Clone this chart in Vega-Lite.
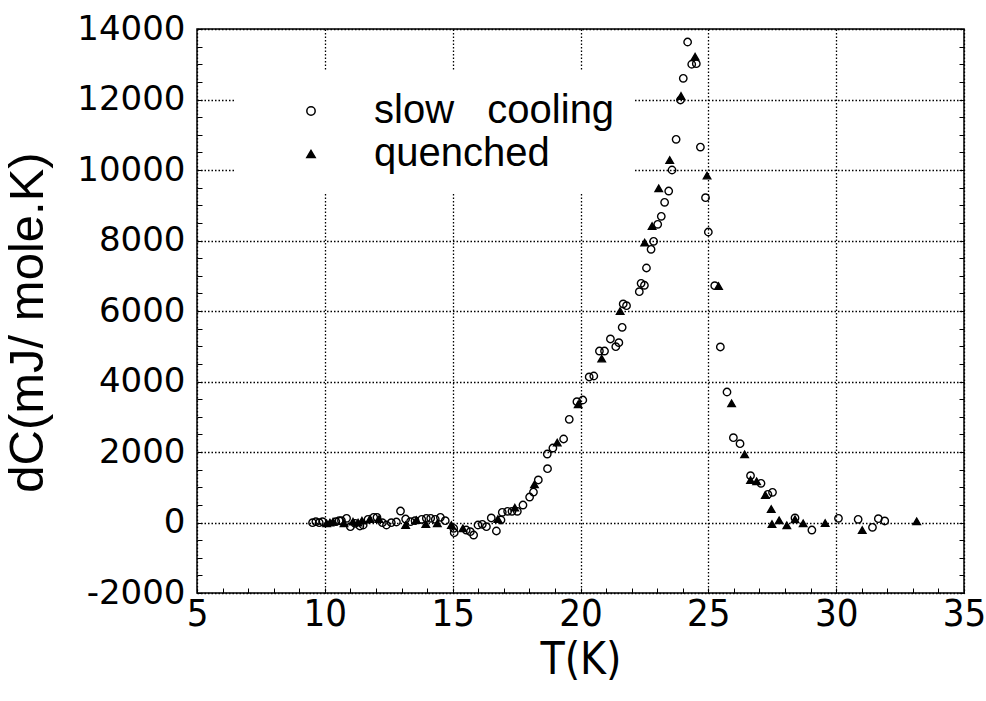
{
  "$schema": "https://vega.github.io/schema/vega-lite/v6.json",
  "width": 767,
  "height": 564,
  "autosize": {"type": "none"},
  "padding": {"left": 197, "top": 29, "right": 22, "bottom": 108},
  "background": "white",
  "config": {
    "view": {"stroke": "black", "strokeWidth": 1.5},
    "font": "Liberation Sans"
  },
  "data": {
    "values": [
      {"T": 9.52, "dC": -5, "s": "slow cooling"},
      {"T": 9.65, "dC": 23, "s": "slow cooling"},
      {"T": 9.78, "dC": -5, "s": "slow cooling"},
      {"T": 9.91, "dC": 23, "s": "slow cooling"},
      {"T": 10.43, "dC": 23, "s": "slow cooling"},
      {"T": 10.56, "dC": 50, "s": "slow cooling"},
      {"T": 10.65, "dC": 50, "s": "slow cooling"},
      {"T": 10.85, "dC": 118, "s": "slow cooling"},
      {"T": 11.0, "dC": -119, "s": "slow cooling"},
      {"T": 11.18, "dC": -24, "s": "slow cooling"},
      {"T": 11.37, "dC": -99, "s": "slow cooling"},
      {"T": 11.5, "dC": -71, "s": "slow cooling"},
      {"T": 11.69, "dC": 90, "s": "slow cooling"},
      {"T": 11.91, "dC": 147, "s": "slow cooling"},
      {"T": 12.04, "dC": 147, "s": "slow cooling"},
      {"T": 12.25, "dC": -5, "s": "slow cooling"},
      {"T": 12.41, "dC": -71, "s": "slow cooling"},
      {"T": 12.6, "dC": -5, "s": "slow cooling"},
      {"T": 12.8, "dC": 14, "s": "slow cooling"},
      {"T": 12.96, "dC": 326, "s": "slow cooling"},
      {"T": 13.16, "dC": 99, "s": "slow cooling"},
      {"T": 13.35, "dC": 23, "s": "slow cooling"},
      {"T": 13.53, "dC": 51, "s": "slow cooling"},
      {"T": 13.79, "dC": 90, "s": "slow cooling"},
      {"T": 13.97, "dC": 118, "s": "slow cooling"},
      {"T": 14.14, "dC": 118, "s": "slow cooling"},
      {"T": 14.32, "dC": 90, "s": "slow cooling"},
      {"T": 14.52, "dC": 147, "s": "slow cooling"},
      {"T": 14.71, "dC": 51, "s": "slow cooling"},
      {"T": 15.04, "dC": -165, "s": "slow cooling"},
      {"T": 15.06, "dC": -289, "s": "slow cooling"},
      {"T": 15.53, "dC": -213, "s": "slow cooling"},
      {"T": 15.69, "dC": -260, "s": "slow cooling"},
      {"T": 15.82, "dC": -355, "s": "slow cooling"},
      {"T": 15.99, "dC": -71, "s": "slow cooling"},
      {"T": 16.16, "dC": -51, "s": "slow cooling"},
      {"T": 16.32, "dC": -119, "s": "slow cooling"},
      {"T": 16.51, "dC": 128, "s": "slow cooling"},
      {"T": 16.71, "dC": -241, "s": "slow cooling"},
      {"T": 16.89, "dC": 71, "s": "slow cooling"},
      {"T": 16.94, "dC": 289, "s": "slow cooling"},
      {"T": 17.15, "dC": 318, "s": "slow cooling"},
      {"T": 17.32, "dC": 318, "s": "slow cooling"},
      {"T": 17.53, "dC": 318, "s": "slow cooling"},
      {"T": 17.75, "dC": 496, "s": "slow cooling"},
      {"T": 18.01, "dC": 723, "s": "slow cooling"},
      {"T": 18.16, "dC": 865, "s": "slow cooling"},
      {"T": 18.35, "dC": 1206, "s": "slow cooling"},
      {"T": 18.71, "dC": 1527, "s": "slow cooling"},
      {"T": 18.7, "dC": 1943, "s": "slow cooling"},
      {"T": 18.92, "dC": 2113, "s": "slow cooling"},
      {"T": 19.34, "dC": 2369, "s": "slow cooling"},
      {"T": 19.56, "dC": 2927, "s": "slow cooling"},
      {"T": 19.86, "dC": 3428, "s": "slow cooling"},
      {"T": 20.09, "dC": 3475, "s": "slow cooling"},
      {"T": 20.34, "dC": 4128, "s": "slow cooling"},
      {"T": 20.52, "dC": 4156, "s": "slow cooling"},
      {"T": 20.74, "dC": 4865, "s": "slow cooling"},
      {"T": 20.94, "dC": 4865, "s": "slow cooling"},
      {"T": 21.38, "dC": 4988, "s": "slow cooling"},
      {"T": 21.5, "dC": 5101, "s": "slow cooling"},
      {"T": 21.17, "dC": 5206, "s": "slow cooling"},
      {"T": 21.63, "dC": 5537, "s": "slow cooling"},
      {"T": 21.67, "dC": 6199, "s": "slow cooling"},
      {"T": 21.8, "dC": 6151, "s": "slow cooling"},
      {"T": 22.3, "dC": 6548, "s": "slow cooling"},
      {"T": 22.37, "dC": 6786, "s": "slow cooling"},
      {"T": 22.5, "dC": 6730, "s": "slow cooling"},
      {"T": 22.58, "dC": 7220, "s": "slow cooling"},
      {"T": 22.76, "dC": 7750, "s": "slow cooling"},
      {"T": 22.86, "dC": 7977, "s": "slow cooling"},
      {"T": 23.02, "dC": 8459, "s": "slow cooling"},
      {"T": 23.16, "dC": 8686, "s": "slow cooling"},
      {"T": 23.29, "dC": 9084, "s": "slow cooling"},
      {"T": 23.45, "dC": 9404, "s": "slow cooling"},
      {"T": 23.58, "dC": 10000, "s": "slow cooling"},
      {"T": 23.74, "dC": 10870, "s": "slow cooling"},
      {"T": 23.91, "dC": 11986, "s": "slow cooling"},
      {"T": 24.02, "dC": 12600, "s": "slow cooling"},
      {"T": 24.19, "dC": 13631, "s": "slow cooling"},
      {"T": 24.35, "dC": 13000, "s": "slow cooling"},
      {"T": 24.53, "dC": 13016, "s": "slow cooling"},
      {"T": 24.69, "dC": 10650, "s": "slow cooling"},
      {"T": 24.89, "dC": 9215, "s": "slow cooling"},
      {"T": 25.0, "dC": 8241, "s": "slow cooling"},
      {"T": 25.25, "dC": 6718, "s": "slow cooling"},
      {"T": 25.47, "dC": 4979, "s": "slow cooling"},
      {"T": 25.73, "dC": 3702, "s": "slow cooling"},
      {"T": 25.98, "dC": 2406, "s": "slow cooling"},
      {"T": 26.24, "dC": 2235, "s": "slow cooling"},
      {"T": 26.65, "dC": 1328, "s": "slow cooling"},
      {"T": 27.06, "dC": 1112, "s": "slow cooling"},
      {"T": 27.33, "dC": 800, "s": "slow cooling"},
      {"T": 27.51, "dC": 857, "s": "slow cooling"},
      {"T": 28.39, "dC": 128, "s": "slow cooling"},
      {"T": 29.05, "dC": -213, "s": "slow cooling"},
      {"T": 30.09, "dC": 119, "s": "slow cooling"},
      {"T": 30.86, "dC": 90, "s": "slow cooling"},
      {"T": 31.42, "dC": -137, "s": "slow cooling"},
      {"T": 31.65, "dC": 108, "s": "slow cooling"},
      {"T": 31.9, "dC": 43, "s": "slow cooling"},
      {"T": 10.07, "dC": -24, "s": "quenched"},
      {"T": 10.2, "dC": 0, "s": "quenched"},
      {"T": 10.32, "dC": 23, "s": "quenched"},
      {"T": 10.75, "dC": -24, "s": "quenched"},
      {"T": 11.1, "dC": 23, "s": "quenched"},
      {"T": 11.3, "dC": -5, "s": "quenched"},
      {"T": 11.45, "dC": 51, "s": "quenched"},
      {"T": 11.76, "dC": 99, "s": "quenched"},
      {"T": 12.12, "dC": 99, "s": "quenched"},
      {"T": 13.16, "dC": -71, "s": "quenched"},
      {"T": 13.58, "dC": 71, "s": "quenched"},
      {"T": 13.95, "dC": -43, "s": "quenched"},
      {"T": 14.4, "dC": -24, "s": "quenched"},
      {"T": 14.95, "dC": -71, "s": "quenched"},
      {"T": 15.4, "dC": -165, "s": "quenched"},
      {"T": 16.77, "dC": 99, "s": "quenched"},
      {"T": 17.43, "dC": 420, "s": "quenched"},
      {"T": 18.2, "dC": 1083, "s": "quenched"},
      {"T": 19.09, "dC": 2265, "s": "quenched"},
      {"T": 19.91, "dC": 3352, "s": "quenched"},
      {"T": 20.83, "dC": 4648, "s": "quenched"},
      {"T": 21.55, "dC": 6000, "s": "quenched"},
      {"T": 22.51, "dC": 7938, "s": "quenched"},
      {"T": 22.8, "dC": 8411, "s": "quenched"},
      {"T": 23.06, "dC": 9480, "s": "quenched"},
      {"T": 23.49, "dC": 10284, "s": "quenched"},
      {"T": 23.93, "dC": 12100, "s": "quenched"},
      {"T": 24.48, "dC": 13214, "s": "quenched"},
      {"T": 24.95, "dC": 9840, "s": "quenched"},
      {"T": 25.4, "dC": 6709, "s": "quenched"},
      {"T": 25.91, "dC": 3381, "s": "quenched"},
      {"T": 26.42, "dC": 1935, "s": "quenched"},
      {"T": 26.65, "dC": 1206, "s": "quenched"},
      {"T": 26.89, "dC": 1169, "s": "quenched"},
      {"T": 27.23, "dC": 780, "s": "quenched"},
      {"T": 27.46, "dC": 383, "s": "quenched"},
      {"T": 27.49, "dC": -43, "s": "quenched"},
      {"T": 27.77, "dC": 62, "s": "quenched"},
      {"T": 28.07, "dC": -80, "s": "quenched"},
      {"T": 28.39, "dC": 90, "s": "quenched"},
      {"T": 28.71, "dC": -23, "s": "quenched"},
      {"T": 29.57, "dC": -14, "s": "quenched"},
      {"T": 31.02, "dC": -213, "s": "quenched"},
      {"T": 33.15, "dC": 34, "s": "quenched"}
    ]
  },
  "resolve": {"axis": {"x": "independent", "y": "independent"}},
  "layer": [
    {
      "mark": {"type": "point", "opacity": 0},
      "encoding": {
        "x": {"field": "T", "type": "quantitative", "scale": {"domain": [5, 35], "nice": false, "zero": false},
          "axis": {"orient": "bottom", "values": [5,6,7,8,9,10,11,12,13,14,15,16,17,18,19,20,21,22,23,24,25,26,27,28,29,30,31,32,33,34,35], "labels": false, "ticks": true, "tickSize": -5, "tickColor": "black", "tickWidth": 1, "domain": false, "grid": false, "title": null}},
        "y": {"field": "dC", "type": "quantitative", "scale": {"domain": [-2000, 14000], "nice": false, "zero": false},
          "axis": {"orient": "left", "values": [-2000,-1500,-1000,-500,0,500,1000,1500,2000,2500,3000,3500,4000,4500,5000,5500,6000,6500,7000,7500,8000,8500,9000,9500,10000,10500,11000,11500,12000,12500,13000,13500,14000], "labels": false, "ticks": true, "tickSize": -5, "tickColor": "black", "tickWidth": 1, "domain": false, "grid": false, "title": null}}
      }
    },
    {
      "mark": {"type": "point", "opacity": 0},
      "encoding": {
        "x": {"field": "T", "type": "quantitative", "axis": null},
        "y": {"field": "dC", "type": "quantitative",
          "axis": {"orient": "right", "values": [-2000,-1500,-1000,-500,0,500,1000,1500,2000,2500,3000,3500,4000,4500,5000,5500,6000,6500,7000,7500,8000,8500,9000,9500,10000,10500,11000,11500,12000,12500,13000,13500,14000], "labels": false, "ticks": true, "tickSize": -5, "tickColor": "black", "tickWidth": 1, "domain": false, "grid": false, "title": null}}
      }
    },
    {
      "mark": {"type": "point", "filled": true, "stroke": "black", "strokeWidth": 1.4, "opacity": 1, "size": 55},
      "encoding": {
        "x": {"field": "T", "type": "quantitative",
          "axis": {"orient": "bottom", "values": [5, 10, 15, 20, 25, 30, 35], "title": "T(K)", "labelFont": "DejaVu Sans Condensed, Liberation Sans", "labelFontSize": 38, "labelColor": "black", "labelPadding": 2, "labelFlush": false, "ticks": false, "domain": false, "grid": true, "gridColor": "black", "gridDash": [1.5, 2], "gridWidth": 1.3, "gridOpacity": 1, "titleFont": "DejaVu Sans Condensed, Liberation Sans", "titleFontSize": 44, "titleFontWeight": "normal", "titleColor": "black", "titlePadding": 5}},
        "y": {"field": "dC", "type": "quantitative",
          "axis": {"orient": "left", "values": [-2000, 0, 2000, 4000, 6000, 8000, 10000, 12000, 14000], "format": "d", "labelExpr": "replace(datum.label, '\u2212', '-')", "title": "dC(mJ/ mole.K)", "labelFont": "DejaVu Sans", "labelFontSize": 34, "labelColor": "black", "labelPadding": 12, "labelFlush": false, "ticks": false, "domain": false, "grid": true, "gridColor": "black", "gridDash": [1.5, 2], "gridWidth": 1.3, "gridOpacity": 1, "titleFont": "Liberation Sans", "titleFontSize": 49, "titleFontWeight": "normal", "titleColor": "black", "titlePadding": 24, "titleY": 293}},
        "shape": {"field": "s", "type": "nominal",
          "scale": {"domain": ["slow cooling", "quenched"], "range": ["circle", "triangle-up"]},
          "legend": {"title": null, "orient": "none", "legendX": 38, "legendY": 42, "fillColor": "white", "padding": 20, "symbolOffset": 36, "labelOffset": 43, "labelFont": "Liberation Sans", "labelFontSize": 40, "labelColor": "black", "symbolSize": 70, "rowPadding": 3, "labelLimit": 400, "labelExpr": "datum.label == 'slow cooling' ? 'slow\u00a0\u00a0 cooling' : datum.label",
            "encode": {"symbols": {"update": {"fill": {"signal": "datum.value == 'quenched' ? 'black' : 'transparent'"}, "stroke": {"value": "black"}, "strokeWidth": {"value": 1.4}, "opacity": {"value": 1}}}}}},
        "fill": {"field": "s", "type": "nominal",
          "scale": {"domain": ["slow cooling", "quenched"], "range": ["transparent", "black"]},
          "legend": null}
      }
    }
  ]
}
